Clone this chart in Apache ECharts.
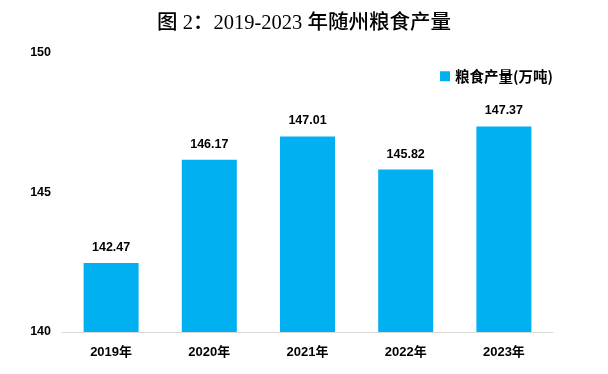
<!DOCTYPE html>
<html><head><meta charset="utf-8">
<script src="https://cdn.jsdelivr.net/npm/echarts@6/dist/echarts.min.js"></script>
<style>html,body{margin:0;padding:0;background:#fff}#c{width:608px;height:374px}</style>
</head><body><div id="c"></div>
<script>
const categories = ['2019年','2020年','2021年','2022年','2023年'];
const values = [142.47, 146.17, 147.01, 145.82, 147.37];
const seriesName = '粮食产量(万吨)';
const titleText = '图 2：2019-2023 年随州粮食产量';

const chart = echarts.init(document.getElementById('c'));
chart.setOption({
  animation: false,
  title: {
    text: titleText, left: 'center', top: 8,
    textStyle: {fontFamily: '"Liberation Serif","Noto Sans CJK SC",serif', fontSize: 20.5, fontWeight: 500, color: '#000'}
  },
  legend: {
    data: [seriesName], right: 50, top: 64, itemWidth: 10, itemHeight: 10, itemGap: 5,
    icon: 'rect',
    textStyle: {fontFamily: '"Noto Sans CJK SC",sans-serif', fontSize: 14.5, fontWeight: 'bold', color: '#000'}
  },
  grid: {left: 62, right: 55, top: 53, bottom: 42},
  xAxis: {
    type: 'category', data: categories,
    axisLine: {lineStyle: {color: '#d9d9d9', width: 1}},
    axisTick: {show: false},
    axisLabel: {margin: 14, color: '#000', fontWeight: 'bold', fontSize: 13, fontFamily: '"Liberation Sans","Noto Sans CJK SC",sans-serif'}
  },
  yAxis: {
    type: 'value', min: 140, max: 150, interval: 5,
    splitLine: {show: false}, axisLine: {show: false}, axisTick: {show: false},
    axisLabel: {margin: 11, color: '#000', fontWeight: 'bold', fontSize: 12.5, fontFamily: '"Liberation Sans",sans-serif'}
  },
  series: [{
    name: seriesName, type: 'bar', data: values, barWidth: '56%',
    itemStyle: {color: '#00B0F0'},
    label: {show: true, position: 'top', distance: 9, color: '#000', fontWeight: 'bold', fontSize: 12.5,
      fontFamily: '"Liberation Sans",sans-serif', formatter: p => p.value.toFixed(2)}
  }]
});
</script></body></html>
